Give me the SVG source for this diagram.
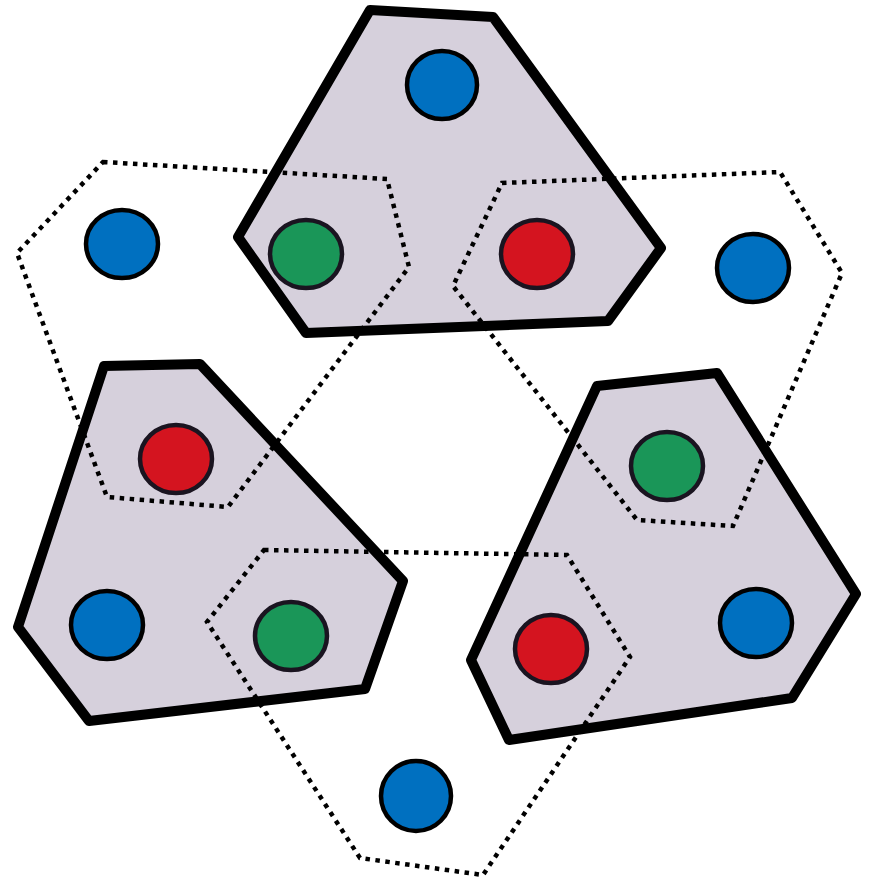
<svg xmlns="http://www.w3.org/2000/svg" width="870" height="881" viewBox="0 0 870 881">
  <style>
    .cell { fill: #d6d0dc; stroke: #000; stroke-width: 10; stroke-linejoin: round; }
    .ring { fill: none; stroke: #000; stroke-width: 4.5; stroke-dasharray: 4.5 5.5; stroke-linejoin: miter; }
    .dot { stroke-width: 4.5; }
    .blue { fill: #0070c0; stroke: #000; }
    .green { fill: #1a9658; stroke: #1a1420; }
    .red { fill: #d4141f; stroke: #1a1420; }
  </style>
  <rect width="870" height="881" fill="#fff"/>

  <!-- solid cells -->
  <g id="cell-top">
    <polygon class="cell" points="370,10 493,17 661,248 608,321 306,333 238,237"/>
  </g>
  <g id="cell-left">
    <polygon class="cell" points="104,366 200,364 403,581 365,689 89,721 18,627"/>
  </g>
  <g id="cell-right">
    <polygon class="cell" points="597,386 717,373 856,594 792,698 509,740 471,660"/>
  </g>

  <!-- dotted rings -->
  <g id="rings">
    <polygon id="ring-left" class="ring" points="103,162 387,179 409,267 228,507 107,497 17,253"/>
    <polygon id="ring-right" class="ring" points="502,183 780,172 842,273 733,526 637,520 453,286"/>
    <polygon id="ring-bottom" class="ring" points="264,550 567,555 630,657 483,875 360,858 207,622"/>
  </g>

  <!-- circles -->
  <g id="top-blue"><ellipse class="dot blue" cx="442" cy="85" rx="35" ry="34"/></g>
  <g id="top-green"><ellipse class="dot green" cx="306" cy="254" rx="36" ry="34"/></g>
  <g id="top-red"><ellipse class="dot red" cx="537" cy="254" rx="36" ry="34"/></g>

  <g id="left-red"><ellipse class="dot red" cx="176" cy="459" rx="36" ry="34"/></g>
  <g id="left-blue"><ellipse class="dot blue" cx="107" cy="625" rx="36" ry="34"/></g>
  <g id="left-green"><ellipse class="dot green" cx="291" cy="636" rx="36" ry="34"/></g>

  <g id="right-green"><ellipse class="dot green" cx="667" cy="466" rx="36" ry="34"/></g>
  <g id="right-blue"><ellipse class="dot blue" cx="756" cy="623" rx="36" ry="34"/></g>
  <g id="right-red"><ellipse class="dot red" cx="551" cy="649" rx="36" ry="34"/></g>

  <g id="free-blue-left"><ellipse class="dot blue" cx="122" cy="244" rx="36" ry="34"/></g>
  <g id="free-blue-right"><ellipse class="dot blue" cx="753" cy="268" rx="36" ry="34"/></g>
  <g id="free-blue-bottom"><ellipse class="dot blue" cx="416" cy="796" rx="35" ry="35"/></g>
</svg>
